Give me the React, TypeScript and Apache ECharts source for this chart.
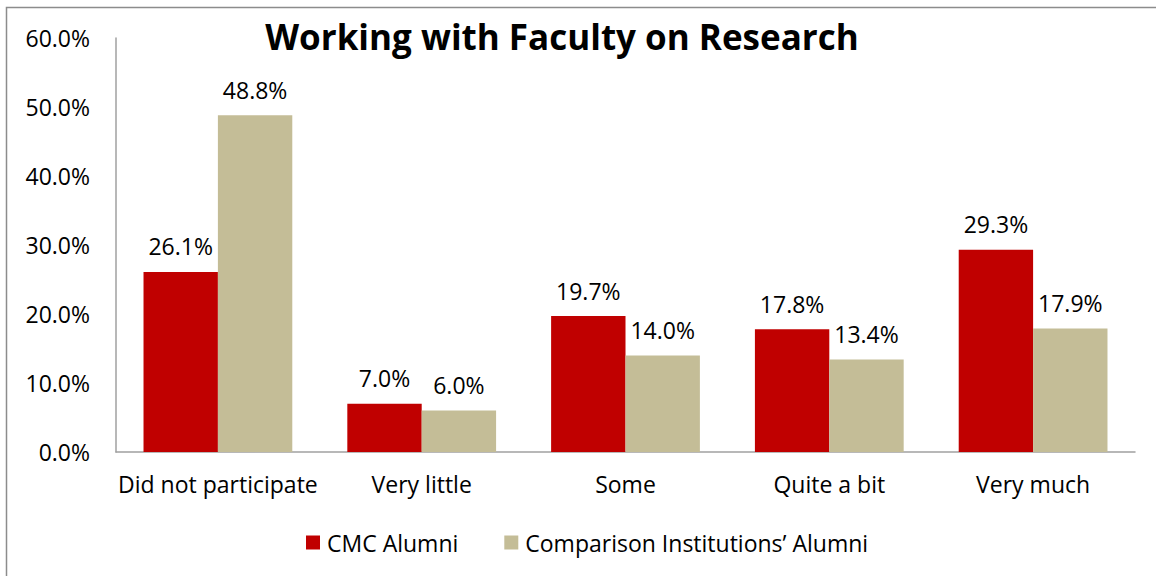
import React, { useEffect, useRef } from "react";
import * as echarts from "echarts";

const categories = ["Did not participate", "Very little", "Some", "Quite a bit", "Very much"];
const cmcAlumni = [26.1, 7.0, 19.7, 17.8, 29.3];
const comparisonAlumni = [48.8, 6.0, 14.0, 13.4, 17.9];
const seriesNames = ["CMC Alumni", "Comparison Institutions\u2019 Alumni"];
const titleText = "Working with Faculty on Research";

const FONT = "'Open Sans', 'Liberation Sans', sans-serif";
const FS = 23;

export default function App() {
  const ref = useRef<HTMLDivElement>(null);
  useEffect(() => {
    document.body.style.margin = "0";
    const chart = echarts.init(ref.current!, undefined, { renderer: "svg" });
    const labelOpt = {
      show: true,
      position: "top",
      distance: 14,
      fontSize: FS,
      color: "#000",
      fontFamily: FONT,
      formatter: (p: any) => p.value.toFixed(1) + "%",
    };
    chart.setOption({
      animation: false,
      backgroundColor: "#fff",
      title: {
        text: titleText,
        left: 557,
        textAlign: "center",
        top: 14,
        textStyle: { fontSize: 35, fontWeight: "bold", color: "#000", fontFamily: FONT },
      },
      graphic: [
        {
          type: "rect",
          shape: { x: 6.5, y: 7.5, width: 1300, height: 700 },
          style: { fill: "none", stroke: "#8c8c8c", lineWidth: 1.5 },
          silent: true,
        },
      ],
      legend: {
        left: 306,
        top: 531,
        padding: 0,
        icon: "rect",
        itemWidth: 14,
        itemHeight: 14,
        itemGap: 46,
        textStyle: { fontSize: FS, color: "#000", fontFamily: FONT, padding: [0, 0, 0, 2] },
        data: seriesNames,
      },
      grid: { left: 116, right: 21, top: 38, bottom: 124, containLabel: false },
      xAxis: {
        type: "category",
        data: categories,
        axisLine: { lineStyle: { color: "#a0a0a0", width: 1.5 } },
        axisTick: { show: false },
        axisLabel: { interval: 0, fontSize: FS, color: "#000", margin: 20, fontFamily: FONT },
      },
      yAxis: {
        type: "value",
        min: 0,
        max: 60,
        interval: 10,
        splitLine: { show: false },
        axisLine: { show: true, lineStyle: { color: "#a0a0a0", width: 1.5 } },
        axisTick: { show: false },
        axisLabel: {
          fontSize: FS,
          color: "#000",
          margin: 26,
          fontFamily: FONT,
          formatter: (v: number) => v.toFixed(1) + "%",
        },
      },
      series: [
        {
          name: seriesNames[0],
          type: "bar",
          data: cmcAlumni,
          itemStyle: { color: "#c00000" },
          barGap: "0%",
          barCategoryGap: "27%",
          label: labelOpt,
        },
        {
          name: seriesNames[1],
          type: "bar",
          data: comparisonAlumni,
          itemStyle: { color: "#c4bd97" },
          label: labelOpt,
        },
      ],
    });
    return () => chart.dispose();
  }, []);
  return <div ref={ref} style={{ width: 1156, height: 576 }} />;
}
